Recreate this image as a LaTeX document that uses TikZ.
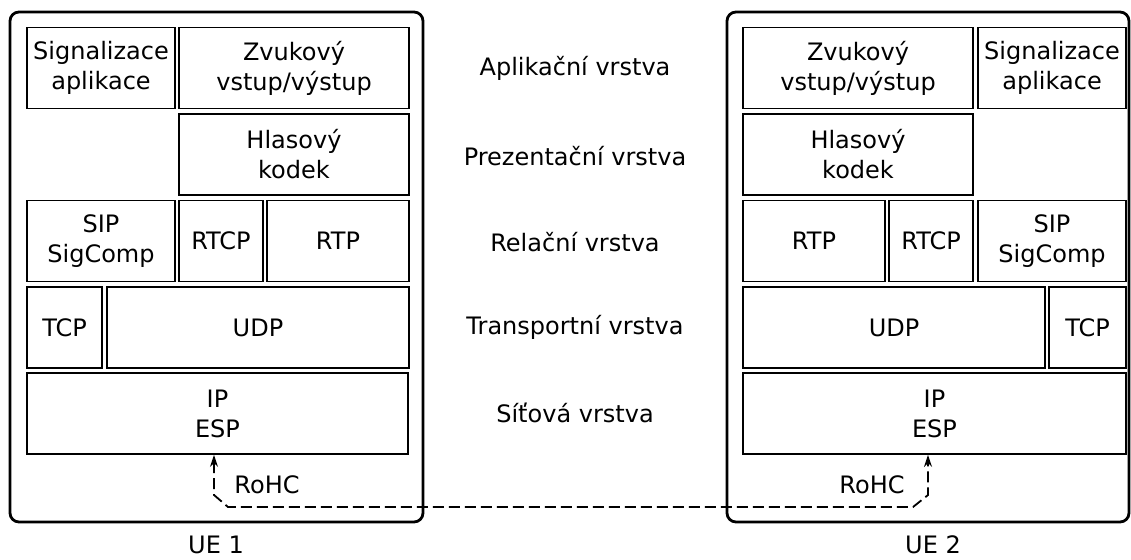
\documentclass[tikz,border=0pt]{standalone}
\usepackage{fontspec}
\setmainfont{DejaVu Sans}
\usetikzlibrary{arrows.meta}

\tikzset{
  uebox/.style={draw, line width=2.8pt, rounded corners=9pt},
  layerbox/.style={draw, line width=1.8pt, minimum height=81pt, inner sep=0pt, align=center},
  rohc/.style={line width=1.8pt, dash pattern=on 11pt off 5pt,
    {Stealth[length=12pt,width=8pt]}-{Stealth[length=12pt,width=8pt]}},
}

\begin{document}
\begin{tikzpicture}[x=1pt,y=-1pt,font=\fontsize{24}{30}\selectfont]
    \useasboundingbox (0,0) rectangle (1131,559);
    % the two terminals
    \node[uebox, minimum width=413pt, minimum height=510pt] (ue1) at (216.5,267) {};
    \node[uebox, minimum width=402pt, minimum height=510pt] (ue2) at (928,267) {};
    \node[inner sep=1pt] (ue1name) at (216,545) {UE 1};
    \node[inner sep=1pt] (ue2name) at (933,545) {UE 2};

    % UE 1 stack
    \node[layerbox, minimum width=148pt] (sigL) at (101,68) {Signalizace\\aplikace};
    \node[layerbox, minimum width=230pt] (zvukL) at (294,68) {Zvukový\\vstup/výstup};
    \node[layerbox, minimum width=230pt] (hlasL) at (294,154.5) {Hlasový\\kodek};
    \node[layerbox, minimum width=148pt] (sipL) at (101,241) {SIP\\SigComp};
    \node[layerbox, minimum width=84pt] (rtcpL) at (221,241) {RTCP};
    \node[layerbox, minimum width=142pt] (rtpL) at (338,241) {RTP};
    \node[layerbox, minimum width=75pt] (tcpL) at (64.5,327.5) {TCP};
    \node[layerbox, minimum width=302pt] (udpL) at (258,327.5) {UDP};
    \node[layerbox, minimum width=381pt] (ipL) at (217.5,413.5) {IP\\ESP};

    % UE 2 stack
    \node[layerbox, minimum width=230pt] (zvukR) at (858,68) {Zvukový\\vstup/výstup};
    \node[layerbox, minimum width=148pt] (sigR) at (1052,68) {Signalizace\\aplikace};
    \node[layerbox, minimum width=230pt] (hlasR) at (858,154.5) {Hlasový\\kodek};
    \node[layerbox, minimum width=142pt] (rtpR) at (814,241) {RTP};
    \node[layerbox, minimum width=84pt] (rtcpR) at (931,241) {RTCP};
    \node[layerbox, minimum width=148pt] (sipR) at (1052,241) {SIP\\SigComp};
    \node[layerbox, minimum width=302pt] (udpR) at (894,327.5) {UDP};
    \node[layerbox, minimum width=77pt] (tcpR) at (1087.5,327.5) {TCP};
    \node[layerbox, minimum width=383pt] (ipR) at (934.5,413.5) {IP\\ESP};

    % layer names
    \node (aplik) at (575,68) {Aplikační vrstva};
    \node (prez) at (575,156) {Prezentační vrstva};
    \node (rel) at (575,242) {Relační vrstva};
    \node (trans) at (575,327) {Transportní vrstva};
    \node (sit) at (575,413) {Síťová vrstva};

    % header compression between the two IP layers
    \coordinate (rohcL) at (214,495);
    \coordinate (kinkL) at (228,507);
    \coordinate (kinkR) at (913,507);
    \coordinate (rohcR) at (928,495);
    \draw[rohc] (ipL.south -| rohcL) -- (rohcL) -- (kinkL) -- (kinkR) -- (rohcR) -- (ipR.south -| rohcR);
    \node (rohcLname) at (267,485) {RoHC};
    \node (rohcRname) at (872,485) {RoHC};
  \end{tikzpicture}
\end{document}
